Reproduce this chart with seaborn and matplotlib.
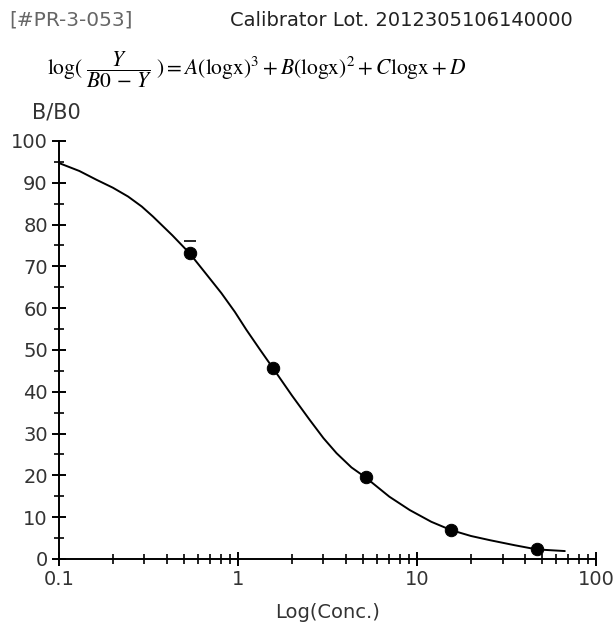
import numpy as np
import pandas as pd
import matplotlib.pyplot as plt
import seaborn as sns
from matplotlib.ticker import FixedLocator, LogLocator, NullFormatter

# calibrator points (concentration, B/B0 %)
conc = [0.537, 1.57, 5.16, 15.5, 46.5]
bb0 = [73.1, 45.6, 19.5, 6.9, 2.3]

# second replicate mark above the first point
rep_conc = [0.537]
rep_bb0 = [76.1]

# fitted curve
curve_conc = [0.1, 0.13, 0.162, 0.2, 0.243, 0.29, 0.335, 0.43, 0.537, 0.66, 0.807,
              0.96, 1.114, 1.33, 1.57, 2.0, 2.51, 3.0, 3.55, 4.3, 5.16, 7.0, 9.1,
              12.0, 15.5, 20.0, 25.5, 35.0, 46.5, 66.8]
curve_bb0 = [94.7, 92.8, 90.7, 88.8, 86.7, 84.3, 81.9, 77.4, 73.1, 68.3, 63.6,
             59.1, 54.8, 50.0, 45.6, 39.1, 33.3, 28.9, 25.3, 21.9, 19.5, 14.9, 11.7,
             8.9, 6.9, 5.5, 4.5, 3.3, 2.3, 1.9]

sns.set_style('ticks')
plt.rcParams['font.family'] = ['DejaVu Sans']
plt.rcParams['mathtext.fontset'] = 'stix'

fig = plt.figure(figsize=(6.14, 6.25), dpi=100)
ax = fig.add_axes([0.096, 0.1056, 0.875, 0.669])

curve = pd.DataFrame({'conc': curve_conc, 'bb0': curve_bb0})
points = pd.DataFrame({'conc': conc, 'bb0': bb0})

sns.lineplot(data=curve, x='conc', y='bb0', color='black', lw=1.4,
             sort=False, ax=ax)
sns.scatterplot(data=points, x='conc', y='bb0', color='black', marker='o',
                s=80, edgecolor='black', ax=ax, zorder=3)
ax.plot(rep_conc, rep_bb0, marker='_', color='black', ms=9, mew=1.2, ls='none')

ax.set_xscale('log')
ax.set_xlim(0.1, 100)
ax.set_ylim(0, 100)

ax.xaxis.set_major_locator(FixedLocator([0.1, 1, 10, 100]))
ax.set_xticklabels(['0.1', '1', '10', '100'])
ax.xaxis.set_minor_locator(LogLocator(base=10, subs=np.arange(2, 10)))
ax.xaxis.set_minor_formatter(NullFormatter())
ax.set_yticks(np.arange(0, 101, 10))
ax.set_yticks(np.arange(5, 100, 10), minor=True)

for side in ['top', 'right']:
    ax.spines[side].set_visible(False)
for side in ['left', 'bottom']:
    ax.spines[side].set_linewidth(1.4)
    ax.spines[side].set_color('black')

ax.tick_params(which='major', direction='inout', length=10, width=1.4,
               labelsize=14, colors='black', labelcolor='#333333', pad=3)
ax.tick_params(which='minor', direction='inout', length=7, width=1.2,
               colors='black')

ax.set_xlabel('Log(Conc.)', fontsize=14, color='#333333', labelpad=10)
ax.set_ylabel('')

fig.text(0.015, 0.968, '[#PR-3-053]', fontsize=14.5, color='#666666', va='center')
fig.text(0.374, 0.968, 'Calibrator Lot. 2012305106140000', fontsize=14,
         color='#222222', va='center')
fig.text(0.076, 0.889,
         r'$\mathrm{log}(\ \dfrac{Y}{B0\,-\,Y}\ ) = A(\mathrm{logx})^3 + B(\mathrm{logx})^2 + C\mathrm{logx} + D$',
         fontsize=15.5, color='black', va='center')
fig.text(0.052, 0.82, 'B/B0', fontsize=15, color='#333333', va='center')

fig.savefig('out.png', dpi=100)
